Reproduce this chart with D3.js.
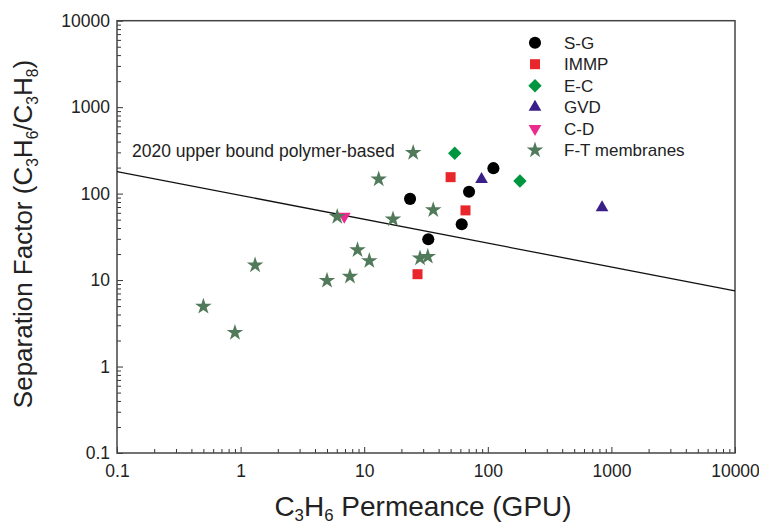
<!DOCTYPE html>
<html>
<head>
<meta charset="utf-8">
<script src="https://cdn.jsdelivr.net/npm/d3@7"></script>
<style>
	body {margin: 0; background: #fff;}
	text {font-family: "Liberation Sans", Arial, sans-serif; fill: #222;}
</style>
</head>
<body>
<svg width="759" height="529"></svg>
<script>
// Datenreihen (GPU, Trennfaktor)
let sgX = [23.5, 70.5, 111, 61.5, 33];
let sgY = [87, 105, 197, 44.3, 29.7];
let immpX = [50, 66, 27];
let immpY = [155, 64, 11.7];
let ecX = [54, 182];
let ecY = [293, 140];
let gvdX = [89, 840];
let gvdY = [146, 69];
let cdX = [6.9];
let cdY = [54.5];
let ftX = [0.5, 0.9, 1.31, 5.0, 6.05, 7.67, 8.83, 11.0, 13.1, 17.1, 24.9, 28.3, 32.7, 36.2];
let ftY = [4.94, 2.47, 14.9, 9.87, 54.2, 11.0, 22.3, 16.7, 147, 50.7, 298, 17.9, 18.7, 64.8];
let boundX = [0.1, 10000];
let boundY = [180, 7.5];
let tickValues = [0.1, 1, 10, 100, 1000, 10000];
let tickLabels = ["0.1", "1", "10", "100", "1000", "10000"];
let seriesNames = ["S-G", "IMMP", "E-C", "GVD", "C-D", "F-T membranes"];

let series = [
	{name: seriesNames[0], x: sgX, y: sgY, type: d3.symbolCircle, size: 115, rot: 0, color: "#000000"},
	{name: seriesNames[1], x: immpX, y: immpY, type: d3.symbolSquare, size: 100, rot: 0, color: "#e8262b"},
	{name: seriesNames[2], x: ecX, y: ecY, type: d3.symbolSquare, size: 90, rot: 45, color: "#009640"},
	{name: seriesNames[3], x: gvdX, y: gvdY, type: d3.symbolTriangle, size: 70, rot: 0, color: "#3b1f88"},
	{name: seriesNames[4], x: cdX, y: cdY, type: d3.symbolTriangle, size: 70, rot: 180, color: "#ea2a8c"},
	{name: seriesNames[5], x: ftX, y: ftY, type: d3.symbolStar, size: 85, rot: 0, color: "#517a5a"}
];

let svg = d3.select("svg");
let margin = {top: 20.7, left: 117, right: 24, bottom: 76};
let width = 759 - margin.left - margin.right;
let height = 529 - margin.top - margin.bottom;
let canvas = svg.append("g").attr("transform", "translate(" + margin.left + "," + margin.top + ")");

let xscale = d3.scaleLog().domain([0.1, 10000]).range([0, width]);
let yscale = d3.scaleLog().domain([0.1, 10000]).range([height, 0]);

// Nebenstriche
let minors = [];
for (let e = -1; e < 4; e++) {
	for (let m = 2; m < 10; m++) minors.push(m * Math.pow(10, e));
}

function fmt(d) {return tickLabels[tickValues.indexOf(d)];}

canvas.append("g")
	.attr("class", "axis-x")
	.attr("transform", "translate(0," + height + ")")
	.call(d3.axisBottom(xscale).tickValues(tickValues).tickFormat(fmt).tickSizeInner(-6).tickSizeOuter(0).tickPadding(12));
canvas.append("g")
	.attr("class", "axis-x-minor")
	.attr("transform", "translate(0," + height + ")")
	.call(d3.axisBottom(xscale).tickValues(minors).tickFormat("").tickSizeInner(-4).tickSizeOuter(0));
canvas.append("g")
	.attr("class", "axis-y")
	.call(d3.axisLeft(yscale).tickValues(tickValues).tickFormat(fmt).tickSizeInner(-6).tickSizeOuter(0).tickPadding(7));
canvas.append("g")
	.attr("class", "axis-y-minor")
	.call(d3.axisLeft(yscale).tickValues(minors).tickFormat("").tickSizeInner(-4).tickSizeOuter(0));

svg.selectAll(".domain").remove();
svg.selectAll(".tick line").attr("stroke", "#333").attr("stroke-width", 1);
svg.selectAll(".axis-x text, .axis-y text")
	.attr("font-size", 17.5)
	.attr("fill", "#222")
	.style("font-family", "Liberation Sans, Arial, sans-serif");

// Rahmen
canvas.append("rect")
	.attr("width", width)
	.attr("height", height)
	.attr("fill", "none")
	.attr("stroke", "#444")
	.attr("stroke-width", 1.5);

// Obergrenze 2020
let line = d3.line()
	.x(function(d) {return xscale(d[0]);})
	.y(function(d) {return yscale(d[1]);});
canvas.append("path")
	.datum(d3.zip(boundX, boundY))
	.attr("d", line)
	.attr("fill", "none")
	.attr("stroke", "#111")
	.attr("stroke-width", 1.3);
canvas.append("text")
	.attr("x", 15)
	.attr("y", 157 - margin.top)
	.attr("font-size", 17.5)
	.text("2020 upper bound polymer-based");

// Punkte
series.forEach(function(s) {
	let sym = d3.symbol().type(s.type).size(s.size);
	canvas.selectAll(".pt-" + s.name.replace(/\W/g, ""))
		.data(d3.zip(s.x, s.y))
		.enter()
		.append("path")
			.attr("d", sym)
			.attr("fill", s.color)
			.attr("transform", function(d) {
				return "translate(" + xscale(d[0]) + "," + yscale(d[1]) + ")rotate(" + s.rot + ")";
			});
});

// Legende
let legend = svg.append("g").attr("transform", "translate(535,42.7)");
series.forEach(function(s, i) {
	let row = legend.append("g").attr("transform", "translate(0," + (i * 21.5) + ")");
	row.append("path")
		.attr("d", d3.symbol().type(s.type).size(s.size))
		.attr("fill", s.color)
		.attr("transform", "rotate(" + s.rot + ")");
	row.append("text")
		.attr("x", 29)
		.attr("y", 6)
		.attr("font-size", 17)
		.text(s.name);
});

// Achsenbeschriftungen
function subText(sel, parts, shift) {
	parts.forEach(function(p) {
		if (p.sub) {
			sel.append("tspan").attr("dy", shift).attr("font-size", "0.6em").text(p.t);
		} else {
			sel.append("tspan").attr("dy", p.back ? -shift : 0).text(p.t);
		}
	});
}

let xlab = svg.append("text")
	.attr("text-anchor", "middle")
	.attr("x", 423)
	.attr("y", 516)
	.attr("font-size", 28);
subText(xlab, [{t: "C"}, {t: "3", sub: true}, {t: "H", back: true}, {t: "6", sub: true}, {t: " Permeance (GPU)", back: true}], 5);

let ylab = svg.append("text")
	.attr("text-anchor", "middle")
	.attr("transform", "translate(32,234)rotate(-90)")
	.attr("font-size", 26);
subText(ylab, [{t: "Separation Factor (C"}, {t: "3", sub: true}, {t: "H", back: true}, {t: "6", sub: true},
	{t: "/C", back: true}, {t: "3", sub: true}, {t: "H", back: true}, {t: "8", sub: true}, {t: ")", back: true}], 6);
</script>
</body>
</html>
